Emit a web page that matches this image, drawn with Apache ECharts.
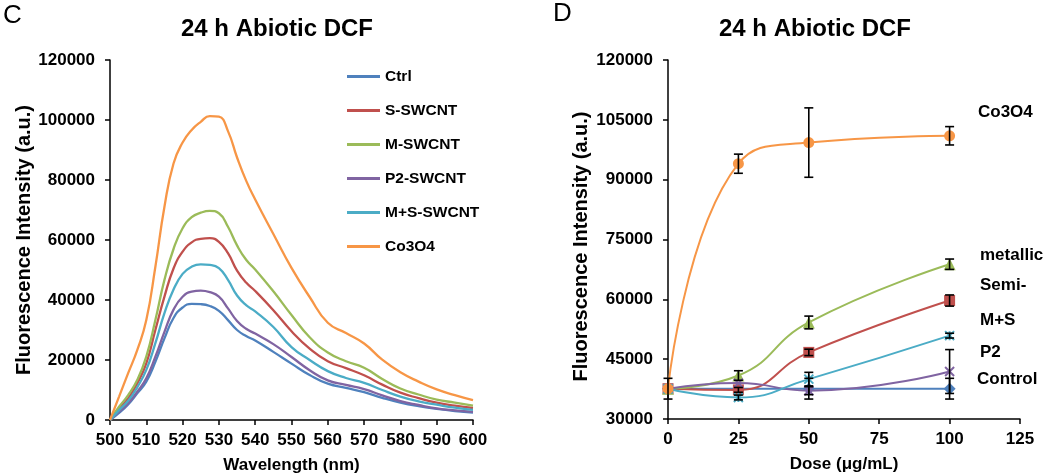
<!DOCTYPE html>
<html>
<head>
<meta charset="utf-8">
<script src="https://cdn.jsdelivr.net/npm/echarts@6/dist/echarts.min.js"></script>
<style>
html,body{margin:0;padding:0;background:#fff;}
#chart{width:1050px;height:475px;}
</style>
</head>
<body>
<div id="chart"></div>
<script>
// ---------- Panel C data ----------
const wavelengths = [500,502.5,505,507.5,510,512.5,515,517.5,520,522.5,525,527.5,530,532.5,535,537.5,540,545,550,555,560,565,570,575,580,585,590,595,600];
const ctrlSpec = [0,2400,5200,8900,12800,19400,27200,34000,37500,38700,38600,38000,36400,33300,30000,28000,26500,22700,18800,15000,12100,10700,9300,7400,5800,4600,3700,3000,2500];
const sSpec    = [0,3900,7200,12200,18900,30000,41100,50500,56100,59200,60400,60600,59400,55600,49800,45800,43000,36600,29600,23800,19600,17300,14900,11800,9100,7300,5800,4800,4000];
const mSpec    = [0,4400,8300,13300,21100,33300,46700,57000,63900,67600,69100,69700,68900,64400,58200,53400,50200,42900,35000,27600,22500,19600,17400,13700,10500,8500,6800,5800,4800];
const p2Spec   = [0,2800,5600,9400,13900,21100,29400,36800,41100,42800,43100,42600,41100,37200,33000,30400,28800,25300,21000,16600,13200,11700,10300,8200,6300,5000,3900,3200,2700];
const msSpec   = [0,3300,6400,10900,16700,25600,35600,43500,48700,51100,51900,51700,50600,46700,41500,38300,36200,31000,24300,20000,16300,14000,12400,10000,7800,6200,5100,4100,3400];
const coSpec   = [0,7800,15600,23300,33300,51100,71100,85500,92500,96700,99400,101300,101100,96300,87500,79800,73500,62000,50700,41000,32400,29000,25500,20100,15900,12800,10200,8300,6600];
const specNames = ['Ctrl','S-SWCNT','M-SWCNT','P2-SWCNT','M+S-SWCNT','Co3O4'];

// ---------- Panel D data ----------
const doses = [0,25,50,100];
const controlD = [37600,37600,37600,37600];
const controlErr = [2600,0,2600,2600];
const semiD = [37600,37300,46700,59700];
const semiErr = [0,600,800,1400];
const metalD = [37600,40900,54200,68800];
const metalErr = [0,1200,1600,1300];
const p2D = [37600,39000,37100,41900];
const p2Err = [0,0,1000,5500];
const msD = [37600,35400,40000,50900];
const msErr = [0,600,1700,600];
const coD = [37600,94000,99300,101000];
const coErr = [0,2400,8700,2300];
const doseLabels = ['Control','Semi-','metallic','P2','M+S','Co3O4'];

const colors = {blue:'#4F81BD', red:'#C0504D', green:'#9BBB59', purple:'#8064A2', aqua:'#4BACC6', orange:'#F79646'};
const FONT = '"Liberation Sans", Arial, sans-serif';

function pairs(xs, ys){ return xs.map((x,i)=>[x, ys[i]]); }
function errData(xs, ys, es){ return xs.map((x,i)=>[x, ys[i], es[i]]).filter(d=>d[2]>0); }

const axisLine = {show:true, lineStyle:{color:'#000', width:1.5}};
const axisTick = {show:true, inside:false, length:5, lineStyle:{color:'#000', width:1.5}};
const axisLabel = {color:'#000', fontSize:17, fontWeight:'bold', fontFamily:FONT, formatter: v => String(v)};

const specSeries = [
  {name:specNames[0], data:ctrlSpec, color:colors.blue},
  {name:specNames[1], data:sSpec, color:colors.red},
  {name:specNames[2], data:mSpec, color:colors.green},
  {name:specNames[3], data:p2Spec, color:colors.purple},
  {name:specNames[4], data:msSpec, color:colors.aqua},
  {name:specNames[5], data:coSpec, color:colors.orange}
].map(s => ({
  type:'line', name:s.name, xAxisIndex:0, yAxisIndex:0,
  data: pairs(wavelengths, s.data), smooth:0.5, showSymbol:false, symbol:'none',
  lineStyle:{width:2.3, color:s.color}, itemStyle:{color:s.color}, z:2
}));

const xSym = 'path://M0,0L10,10M0,10L10,0';
const starSym = 'path://M0,0L10,10M0,10L10,0M5,0L5,10';

const doseDefs = [
  {name:'Control', data:controlD, err:controlErr, color:colors.blue, symbol:'diamond', size:12},
  {name:'Semi-', data:semiD, err:semiErr, color:colors.red, symbol:'rect', size:11},
  {name:'metallic', data:metalD, err:metalErr, color:colors.green, symbol:'triangle', size:12},
  {name:'P2', data:p2D, err:p2Err, color:colors.purple, symbol:xSym, size:9},
  {name:'M+S', data:msD, err:msErr, color:colors.aqua, symbol:starSym, size:9},
  {name:'Co3O4', data:coD, err:coErr, color:colors.orange, symbol:'circle', size:11}
];

const doseSeries = [];
doseDefs.forEach((s, k) => {
  const isPath = s.symbol.indexOf('path://') === 0;
  doseSeries.push({
    type:'line', name:'d_'+s.name, xAxisIndex:1, yAxisIndex:1,
    data: pairs(doses, s.data), smooth:0.5, symbol:s.symbol, symbolSize:s.size, showSymbol:true,
    lineStyle:{width:2, color:s.color},
    itemStyle:{color:s.color, borderColor:s.color, borderWidth: isPath ? 2 : 0},
    z: 2 + k * 0.1
  });
});
doseDefs.forEach((s) => {
  doseSeries.push({
    type:'custom', name:'e_'+s.name, xAxisIndex:1, yAxisIndex:1,
    data: errData(doses, s.data, s.err), z:10, silent:true,
    renderItem: function(params, api){
      const x = api.value(0), y = api.value(1), e = api.value(2);
      const top = api.coord([x, y + e]);
      const bot = api.coord([x, y - e]);
      const w = 4.5;
      const st = {stroke:'#000', lineWidth:1.6};
      return {type:'group', children:[
        {type:'line', shape:{x1:top[0], y1:top[1], x2:bot[0], y2:bot[1]}, style:st},
        {type:'line', shape:{x1:top[0]-w, y1:top[1], x2:top[0]+w, y2:top[1]}, style:st},
        {type:'line', shape:{x1:bot[0]-w, y1:bot[1], x2:bot[0]+w, y2:bot[1]}, style:st}
      ]};
    }
  });
});

const labelY = {'Co3O4':114, 'metallic':257, 'Semi-':287, 'M+S':322, 'P2':354, 'Control':381};
const labelX = {'Co3O4':978, 'metallic':980, 'Semi-':980, 'M+S':980, 'P2':980, 'Control':977};
const graphics = doseLabels.map(n => ({
  type:'text', left: labelX[n], top: labelY[n] - 10,
  style:{text:n, font:'bold 17px ' + FONT, fill:'#000'}
}));

const chart = echarts.init(document.getElementById('chart'), null, {renderer:'canvas'});
chart.setOption({
  backgroundColor:'#fff',
  animation:false,
  title:[
    {text:'24 h Abiotic DCF', left:272, top:12, textAlign:'center', textStyle:{fontSize:24, fontWeight:'bold', color:'#000', fontFamily:FONT}},
    {text:'24 h Abiotic DCF', left:810, top:12, textAlign:'center', textStyle:{fontSize:24, fontWeight:'bold', color:'#000', fontFamily:FONT}},
    {text:'C', left:-2, top:-2, textStyle:{fontSize:26, fontWeight:'normal', color:'#000', fontFamily:FONT}},
    {text:'D', left:548, top:-4, textStyle:{fontSize:26, fontWeight:'normal', color:'#000', fontFamily:FONT}}
  ],
  legend:{
    data: specNames, orient:'vertical', left:342, top:63,
    icon:'rect', itemWidth:33, itemHeight:3, itemGap:17,
    textStyle:{fontSize:15.5, fontWeight:'bold', color:'#000', fontFamily:FONT, lineHeight:17}
  },
  grid:[
    {left:110, top:60, width:363, height:360, containLabel:false, outerBoundsMode:'none'},
    {left:668, top:60, width:352, height:359, containLabel:false, outerBoundsMode:'none'}
  ],
  xAxis:[
    {type:'value', gridIndex:0, min:500, max:600, interval:10, splitLine:{show:false},
     axisLine, axisTick, axisLabel:Object.assign({}, axisLabel, {margin:12}),
     name:'Wavelength (nm)', nameLocation:'middle', nameGap:37,
     nameTextStyle:{fontSize:17, fontWeight:'bold', color:'#000', fontFamily:FONT}},
    {type:'value', gridIndex:1, min:0, max:125, interval:25, splitLine:{show:false},
     axisLine, axisTick, axisLabel:Object.assign({}, axisLabel, {margin:12}),
     name:'Dose (μg/mL)', nameLocation:'middle', nameGap:37,
     nameTextStyle:{fontSize:17, fontWeight:'bold', color:'#000', fontFamily:FONT}}
  ],
  yAxis:[
    {type:'value', gridIndex:0, min:0, max:120000, interval:20000, splitLine:{show:false},
     axisLine, axisTick, axisLabel:Object.assign({}, axisLabel, {margin:15}),
     name:'Fluorescence Intensity (a.u.)', nameLocation:'middle', nameRotate:90, nameGap:76,
     nameTextStyle:{fontSize:20, fontWeight:'bold', color:'#000', fontFamily:FONT}},
    {type:'value', gridIndex:1, min:30000, max:120000, interval:15000, splitLine:{show:false},
     axisLine, axisTick, axisLabel:Object.assign({}, axisLabel, {margin:15}),
     name:'Fluorescence Intensity (a.u.)', nameLocation:'middle', nameRotate:90, nameGap:77,
     nameTextStyle:{fontSize:20, fontWeight:'bold', color:'#000', fontFamily:FONT, padding:[0,14,0,0]}}
  ],
  graphic: graphics,
  series: specSeries.concat(doseSeries)
});
</script>
</body>
</html>
